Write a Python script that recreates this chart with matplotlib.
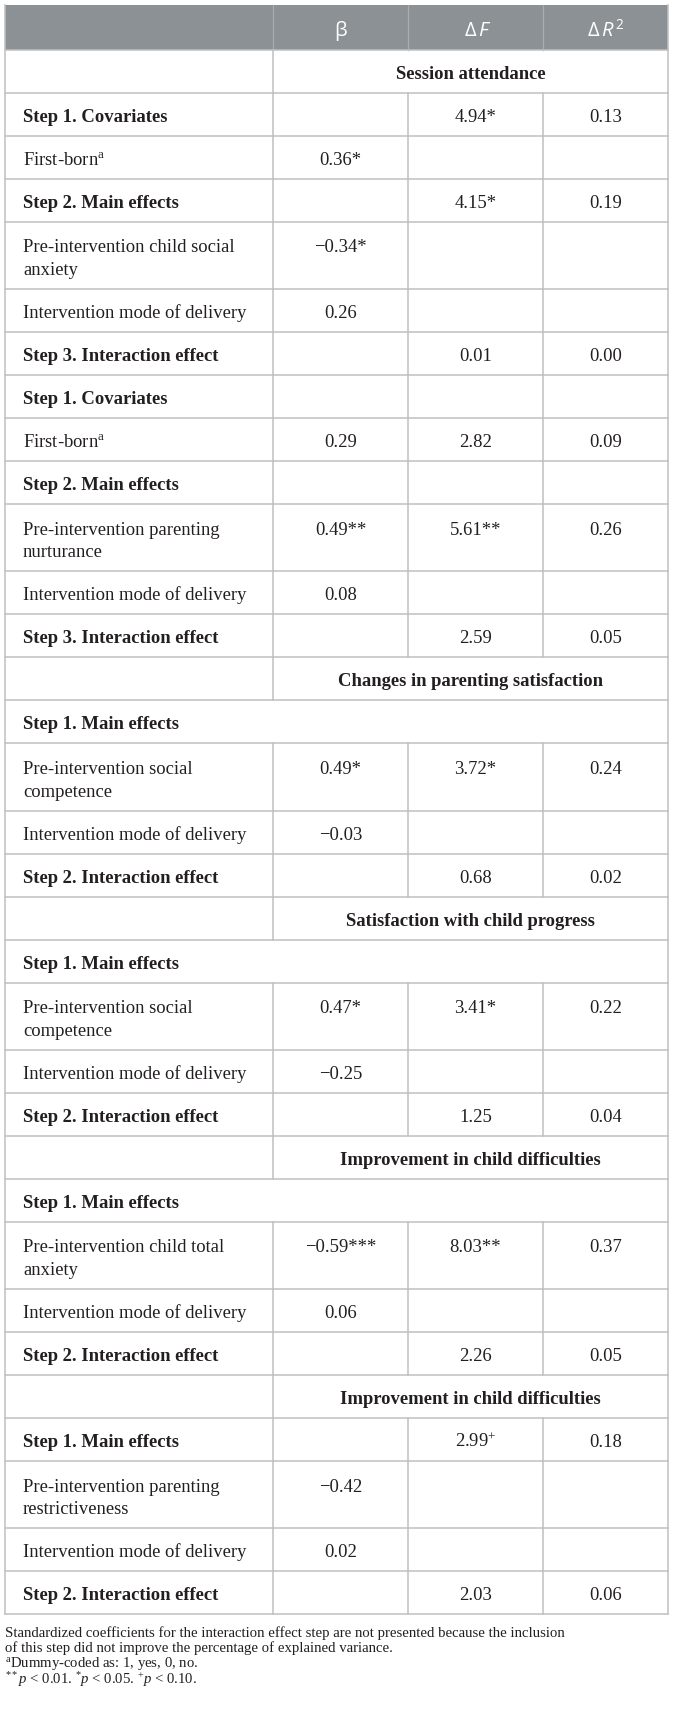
import matplotlib.pyplot as plt
from matplotlib.patches import Rectangle

plt.rcParams['mathtext.fontset'] = 'custom'
plt.rcParams['mathtext.rm'] = 'Liberation Serif'
plt.rcParams['mathtext.it'] = 'Liberation Serif:italic'
plt.rcParams['mathtext.bf'] = 'Liberation Serif:bold'

# table content
labels = [
    'Session attendance',
    'Step 1. Covariates',
    r'First-born$^{\mathrm{a}}$',
    'Step 2. Main effects',
    'Pre-intervention child social\nanxiety',
    'Intervention mode of delivery',
    'Step 3. Interaction effect',
    'Step 1. Covariates',
    r'First-born$^{\mathrm{a}}$',
    'Step 2. Main effects',
    'Pre-intervention parenting\nnurturance',
    'Intervention mode of delivery',
    'Step 3. Interaction effect',
    'Changes in parenting satisfaction',
    'Step 1. Main effects',
    'Pre-intervention social\ncompetence',
    'Intervention mode of delivery',
    'Step 2. Interaction effect',
    'Satisfaction with child progress',
    'Step 1. Main effects',
    'Pre-intervention social\ncompetence',
    'Intervention mode of delivery',
    'Step 2. Interaction effect',
    'Improvement in child difficulties',
    'Step 1. Main effects',
    'Pre-intervention child total\nanxiety',
    'Intervention mode of delivery',
    'Step 2. Interaction effect',
    'Improvement in child difficulties',
    'Step 1. Main effects',
    'Pre-intervention parenting\nrestrictiveness',
    'Intervention mode of delivery',
    'Step 2. Interaction effect',
]
# section = outcome heading, step = bold row, span = bold row over full width, item = plain row
kinds = ['section', 'step', 'item', 'step', 'item', 'item', 'step',
         'step', 'item', 'step', 'item', 'item', 'step',
         'section', 'span', 'item', 'item', 'step',
         'section', 'span', 'item', 'item', 'step',
         'section', 'span', 'item', 'item', 'step',
         'section', 'step', 'item', 'item', 'step']
beta = ['', '', '0.36*', '', '\u22120.34*', '0.26', '', '', '0.29', '', '0.49**', '0.08', '',
        '', '', '0.49*', '\u22120.03', '', '', '', '0.47*', '\u22120.25', '',
        '', '', '\u22120.59***', '0.06', '', '', '', '\u22120.42', '0.02', '']
delta_f = ['', '4.94*', '', '4.15*', '', '', '0.01', '', '2.82', '', '5.61**', '', '2.59',
           '', '', '3.72*', '', '0.68', '', '', '3.41*', '', '1.25',
           '', '', '8.03**', '', '2.26', '', r'2.99$^{+}$', '', '', '2.03']
delta_r2 = ['', '0.13', '', '0.19', '', '', '0.00', '', '0.09', '', '0.26', '', '0.05',
            '', '', '0.24', '', '0.02', '', '', '0.22', '', '0.04',
            '', '', '0.37', '', '0.05', '', '0.18', '', '', '0.06']
footnotes = [
    'Standardized coefficients for the interaction effect step are not presented because the inclusion',
    'of this step did not improve the percentage of explained variance.',
    r'$^{\mathrm{a}}$Dummy-coded as: 1, yes, 0, no.',
    r'$^{**}\mathit{p}$ < 0.01. $^{*}\mathit{p}$ < 0.05. $^{+}\mathit{p}$ < 0.10.',
]

W, H = 675, 1721
x_left, x_right = 5, 668
col_x = [273, 408, 543]
top, head_bot = 5, 50
h1, h2 = 43.0, 67.2
grid = '#c0c0c0'
head_bg = '#8b9194'
txt = '#231f20'
fs = 13.4
serif = 'Liberation Serif'

fig = plt.figure(figsize=(W / 100, H / 100), dpi=100)
ax = fig.add_axes([0, 0, 1, 1])
ax.set_xlim(0, W)
ax.set_ylim(H, 0)
ax.axis('off')

# header
ax.add_patch(Rectangle((x_left, top), x_right - x_left, head_bot - top, color=head_bg, lw=0))
for cx in col_x:
    ax.plot([cx, cx], [top, head_bot], color='#a9adaf', lw=0.9)
hb = 36
hfs = 14.5
c1 = (col_x[0] + col_x[1]) / 2
c2 = (col_x[1] + col_x[2]) / 2
c3 = (col_x[2] + x_right) / 2
hkw = dict(color='white', family='Open Sans', va='baseline')
ax.text(c1, hb, '\u03b2', fontsize=hfs, ha='center', **hkw)
ax.text(c2 + 1, hb, '\u0394', fontsize=hfs, ha='right', **hkw)
ax.text(c2 + 3, hb, 'F', fontsize=hfs, style='italic', ha='left', **hkw)
ax.text(c3 - 6, hb, '\u0394', fontsize=hfs, ha='right', **hkw)
ax.text(c3 - 4, hb, 'R', fontsize=hfs, style='italic', ha='left', **hkw)
ax.text(c3 + 10, hb - 7, '2', fontsize=hfs * 0.68, ha='left', **hkw)

# body rows
y = head_bot
ax.plot([x_left, x_right], [y, y], color=grid, lw=1.1)
for lab, kind, b, f, r in zip(labels, kinds, beta, delta_f, delta_r2):
    lines = lab.split('\n')
    h = h1 if len(lines) == 1 else h2
    base = y + (29 if len(lines) == 1 else 30.5)
    if kind == 'section':
        ax.plot([col_x[0]] * 2, [y, y + h], color=grid, lw=1.1)
        ax.text((col_x[0] + x_right) / 2, base, lab, fontsize=fs, family=serif, weight='bold',
                color=txt, ha='center', va='baseline')
    else:
        if kind != 'span':
            for cx in col_x:
                ax.plot([cx, cx], [y, y + h], color=grid, lw=1.1)
        bold = 'bold' if kind in ('step', 'span') else 'normal'
        for k, part in enumerate(lines):
            ax.text(23, base + 22.7 * k, part, fontsize=fs, family=serif, weight=bold,
                    color=txt, ha='left', va='baseline')
        for val, cx in zip([b, f, r], [c1, c2, c3]):
            if val:
                ax.text(cx, base, val, fontsize=fs, family=serif, color=txt,
                        ha='center', va='baseline')
    y += h
    ax.plot([x_left, x_right], [y, y], color=grid, lw=1.1)

ax.plot([x_left, x_left], [top, y], color=grid, lw=1.1)
ax.plot([x_right, x_right], [top, y], color=grid, lw=1.1)

# footnotes
ffs = 10.6
for yb, line in zip([1637, 1652, 1667, 1684], footnotes):
    ax.text(5, yb, line, fontsize=ffs, family=serif, color=txt,
            ha='left', va='baseline')

fig.savefig('out.png', dpi=100)
